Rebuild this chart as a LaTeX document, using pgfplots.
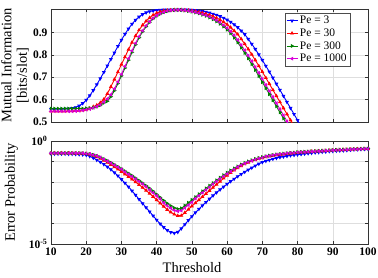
\documentclass[border=0pt]{standalone}
\usepackage{fontspec}
\setmainfont{Liberation Serif}
\usepackage{pgfplots}
\usepackage{pgfplotstable}
\pgfplotsset{compat=1.18}
\definecolor{mblue}{rgb}{0,0,1}
\definecolor{mred}{rgb}{1,0,0}
\definecolor{mgreen}{rgb}{0,0.5,0}
\definecolor{mmag}{rgb}{0.85,0,0.85}

% Mutual information [bits/slot] vs threshold
\pgfplotstableread{
x b r g m
10 0.557 0.548 0.560 0.548
11 0.557 0.548 0.560 0.548
12 0.557 0.548 0.560 0.548
13 0.557 0.548 0.560 0.548
14 0.558 0.548 0.560 0.548
15 0.559 0.549 0.560 0.548
16 0.561 0.549 0.560 0.548
17 0.565 0.550 0.560 0.549
18 0.572 0.551 0.560 0.550
19 0.583 0.553 0.560 0.552
20 0.598 0.556 0.561 0.555
21 0.618 0.561 0.562 0.558
22 0.641 0.568 0.564 0.563
23 0.667 0.575 0.568 0.569
24 0.694 0.586 0.575 0.577
25 0.722 0.601 0.585 0.589
26 0.751 0.626 0.593 0.603
27 0.780 0.657 0.613 0.622
28 0.809 0.690 0.640 0.648
29 0.838 0.723 0.672 0.679
30 0.866 0.757 0.706 0.713
31 0.892 0.790 0.741 0.748
32 0.916 0.823 0.776 0.783
33 0.937 0.855 0.811 0.818
34 0.955 0.884 0.845 0.851
35 0.969 0.910 0.876 0.881
36 0.980 0.932 0.903 0.907
37 0.988 0.950 0.926 0.929
38 0.993 0.965 0.945 0.948
39 0.996 0.977 0.961 0.963
40 0.998 0.986 0.973 0.975
41 0.999 0.992 0.982 0.984
42 1.000 0.996 0.989 0.990
43 1.000 0.998 0.994 0.995
44 1.000 0.999 0.997 0.998
45 1.000 1.000 0.999 0.999
46 1.000 1.000 1.000 1.000
47 1.000 1.000 1.000 1.000
48 1.000 0.999 0.997 0.998
49 1.000 0.998 0.995 0.996
50 0.999 0.996 0.992 0.993
51 0.998 0.994 0.988 0.990
52 0.996 0.991 0.984 0.986
53 0.994 0.987 0.978 0.981
54 0.991 0.982 0.973 0.976
55 0.987 0.977 0.966 0.970
56 0.982 0.971 0.958 0.962
57 0.977 0.964 0.949 0.954
58 0.971 0.956 0.938 0.944
59 0.964 0.946 0.926 0.932
60 0.956 0.935 0.912 0.919
61 0.946 0.922 0.896 0.904
62 0.935 0.907 0.876 0.887
63 0.922 0.891 0.855 0.866
64 0.907 0.870 0.832 0.843
65 0.891 0.848 0.808 0.820
66 0.870 0.825 0.784 0.796
67 0.848 0.801 0.758 0.771
68 0.825 0.776 0.732 0.745
69 0.801 0.750 0.705 0.719
70 0.776 0.724 0.678 0.692
71 0.750 0.697 0.651 0.665
72 0.724 0.670 0.624 0.638
73 0.697 0.643 0.597 0.611
74 0.670 0.616 0.570 0.584
75 0.643 0.589 0.543 0.557
76 0.616 0.562 0.516 0.530
77 0.589 0.535 0.489 0.503
78 0.562 0.508 0.462 0.476
79 0.535 0.481 0.435 0.449
80 0.508 0.454 0.408 0.422
81 0.481 0.427 0.381 0.395
82 0.454 0.400 0.354 0.368
}\mitable

% log10 of error probability vs threshold
\pgfplotstableread{
x b r g m
10 -0.62 -0.59 -0.59 -0.59
11 -0.62 -0.59 -0.59 -0.59
12 -0.62 -0.59 -0.59 -0.59
13 -0.62 -0.59 -0.59 -0.59
14 -0.62 -0.59 -0.59 -0.59
15 -0.63 -0.59 -0.59 -0.59
16 -0.63 -0.59 -0.59 -0.59
17 -0.64 -0.60 -0.59 -0.59
18 -0.65 -0.60 -0.59 -0.59
19 -0.66 -0.61 -0.59 -0.59
20 -0.68 -0.62 -0.61 -0.61
21 -0.74 -0.65 -0.63 -0.63
22 -0.82 -0.70 -0.67 -0.67
23 -0.92 -0.77 -0.72 -0.72
24 -1.02 -0.85 -0.79 -0.79
25 -1.13 -0.94 -0.87 -0.89
26 -1.25 -1.04 -0.96 -0.98
27 -1.38 -1.15 -1.05 -1.07
28 -1.53 -1.26 -1.15 -1.17
29 -1.69 -1.37 -1.25 -1.27
30 -1.86 -1.49 -1.35 -1.37
31 -2.04 -1.61 -1.46 -1.50
32 -2.22 -1.73 -1.57 -1.61
33 -2.42 -1.86 -1.68 -1.72
34 -2.62 -1.99 -1.80 -1.84
35 -2.83 -2.12 -1.92 -1.96
36 -3.03 -2.26 -2.04 -2.08
37 -3.23 -2.40 -2.17 -2.21
38 -3.43 -2.55 -2.30 -2.37
39 -3.63 -2.70 -2.44 -2.51
40 -3.83 -2.86 -2.59 -2.66
41 -4.02 -3.02 -2.74 -2.81
42 -4.19 -3.18 -2.89 -3.00
43 -4.33 -3.33 -3.03 -3.14
44 -4.43 -3.46 -3.15 -3.26
45 -4.47 -3.56 -3.25 -3.36
46 -4.42 -3.63 -3.30 -3.41
47 -4.25 -3.62 -3.27 -3.38
48 -4.05 -3.48 -3.14 -3.25
49 -3.85 -3.32 -3.00 -3.11
50 -3.66 -3.16 -2.86 -2.97
51 -3.47 -3.01 -2.72 -2.79
52 -3.30 -2.86 -2.58 -2.65
53 -3.13 -2.71 -2.44 -2.51
54 -2.97 -2.56 -2.30 -2.37
55 -2.81 -2.41 -2.17 -2.24
56 -2.65 -2.26 -2.04 -2.09
57 -2.50 -2.11 -1.91 -1.96
58 -2.36 -1.96 -1.78 -1.83
59 -2.22 -1.81 -1.66 -1.71
60 -2.09 -1.67 -1.54 -1.59
61 -1.96 -1.54 -1.43 -1.48
62 -1.84 -1.42 -1.33 -1.38
63 -1.72 -1.31 -1.23 -1.26
64 -1.61 -1.21 -1.14 -1.17
65 -1.50 -1.12 -1.06 -1.09
66 -1.40 -1.04 -0.99 -1.02
67 -1.30 -0.97 -0.93 -0.96
68 -1.20 -0.91 -0.87 -0.90
69 -1.11 -0.86 -0.82 -0.85
70 -1.03 -0.82 -0.78 -0.81
71 -0.97 -0.78 -0.74 -0.75
72 -0.92 -0.74 -0.71 -0.72
73 -0.87 -0.71 -0.68 -0.69
74 -0.83 -0.68 -0.65 -0.66
75 -0.79 -0.66 -0.63 -0.64
76 -0.76 -0.64 -0.61 -0.62
77 -0.73 -0.62 -0.59 -0.60
78 -0.70 -0.60 -0.57 -0.58
79 -0.68 -0.58 -0.56 -0.57
80 -0.66 -0.57 -0.54 -0.55
81 -0.64 -0.55 -0.53 -0.54
82 -0.62 -0.54 -0.52 -0.53
83 -0.60 -0.53 -0.51 -0.52
84 -0.58 -0.51 -0.50 -0.51
85 -0.56 -0.50 -0.49 -0.50
86 -0.55 -0.49 -0.48 -0.49
87 -0.53 -0.48 -0.47 -0.48
88 -0.52 -0.47 -0.46 -0.47
89 -0.50 -0.46 -0.45 -0.46
90 -0.49 -0.45 -0.44 -0.45
91 -0.48 -0.44 -0.43 -0.44
92 -0.47 -0.43 -0.42 -0.43
93 -0.46 -0.42 -0.42 -0.43
94 -0.45 -0.41 -0.41 -0.42
95 -0.43 -0.41 -0.40 -0.41
96 -0.42 -0.40 -0.39 -0.40
97 -0.41 -0.39 -0.39 -0.40
98 -0.40 -0.38 -0.38 -0.39
99 -0.39 -0.38 -0.37 -0.38
100 -0.38 -0.37 -0.37 -0.38
}\petable

\pgfplotsset{
  common/.style={
    scale only axis, width=317pt,
    xmin=10, xmax=100, xtick={10,20,30,40,50,60,70,80,90,100},
    grid=major, major grid style={black!13, line width=0.4pt},
    axis line style={black!80, line width=0.5pt},
    tick align=inside, major tick length=3pt,
    tick style={black!80, line width=0.4pt},
    ticklabel style={font=\fontsize{11.5}{12}\selectfont\bfseries},
    label style={font=\fontsize{14.5}{15.5}\selectfont\mdseries},
    every axis plot/.append style={line width=0.9pt, mark size=1.4pt},
  },
  sb/.style={mblue, mark=triangle*, mark options={rotate=180, solid}},
  sr/.style={mred, mark=triangle*, mark options={solid}},
  sg/.style={mgreen, mark=triangle*, mark options={rotate=-90, solid}},
  sm/.style={mmag, mark=triangle*, mark options={rotate=90, solid}},
}

\begin{document}
\begin{tikzpicture}
\useasboundingbox (0,0) rectangle (378pt,277pt);
% top: mutual information
\begin{axis}[common,
  at={(51pt,155pt)}, anchor=south west, height=113pt,
  ymin=0.5, ymax=1.004,
  ytick={0.5,0.6,0.7,0.8,0.9}, yticklabels={0.5,0.6,0.7,0.8,0.9},
  xticklabels={},
  ylabel={Mutual Information\\{}[bits/slot]\hspace*{20pt}},
  ylabel style={at={(axis description cs:-0.059,0.5)}, anchor=south, align=center},
  legend style={at={(0.943,0.965)}, anchor=north east,
    font=\fontsize{11.5}{12}\selectfont, draw=black!70, line width=0.4pt,
    inner sep=1pt, row sep=-0.5pt, legend cell align=left},
  legend image code/.code={\draw[mark repeat=2, mark phase=2, #1]
    plot coordinates {(0pt,0pt) (5.5pt,0pt) (11pt,0pt)};},
]
\addplot[sb] table[x=x, y=b] {\mitable};
\addplot[sr] table[x=x, y=r] {\mitable};
\addplot[sg] table[x=x, y=g] {\mitable};
\addplot[sm] table[x=x, y=m] {\mitable};
\legend{Pe = 3, Pe = 30, Pe = 300, Pe = 1000}
\end{axis}
% bottom: error probability (axis in log10 units)
\begin{axis}[common,
  at={(51pt,33pt)}, anchor=south west, height=103pt,
  ymin=-5, ymax=0,
  ytick={-5,-4,-3,-2,-1,0},
  yticklabels={10\textsuperscript{-5},,,,,10\textsuperscript{0}},
  xticklabels={10,20,30,40,50,60,70,80,90,100},
  ylabel={Error Probability},
  ylabel style={at={(axis description cs:-0.093,0.5)}, anchor=south},
  xlabel={Threshold},
  xlabel style={at={(axis description cs:0.445,0)}, anchor=north, inner sep=0pt, yshift=-18.5pt},
]
\addplot[sb] table[x=x, y=b] {\petable};
\addplot[sr] table[x=x, y=r] {\petable};
\addplot[sg] table[x=x, y=g] {\petable};
\addplot[sm] table[x=x, y=m] {\petable};
\end{axis}
\end{tikzpicture}
\end{document}
